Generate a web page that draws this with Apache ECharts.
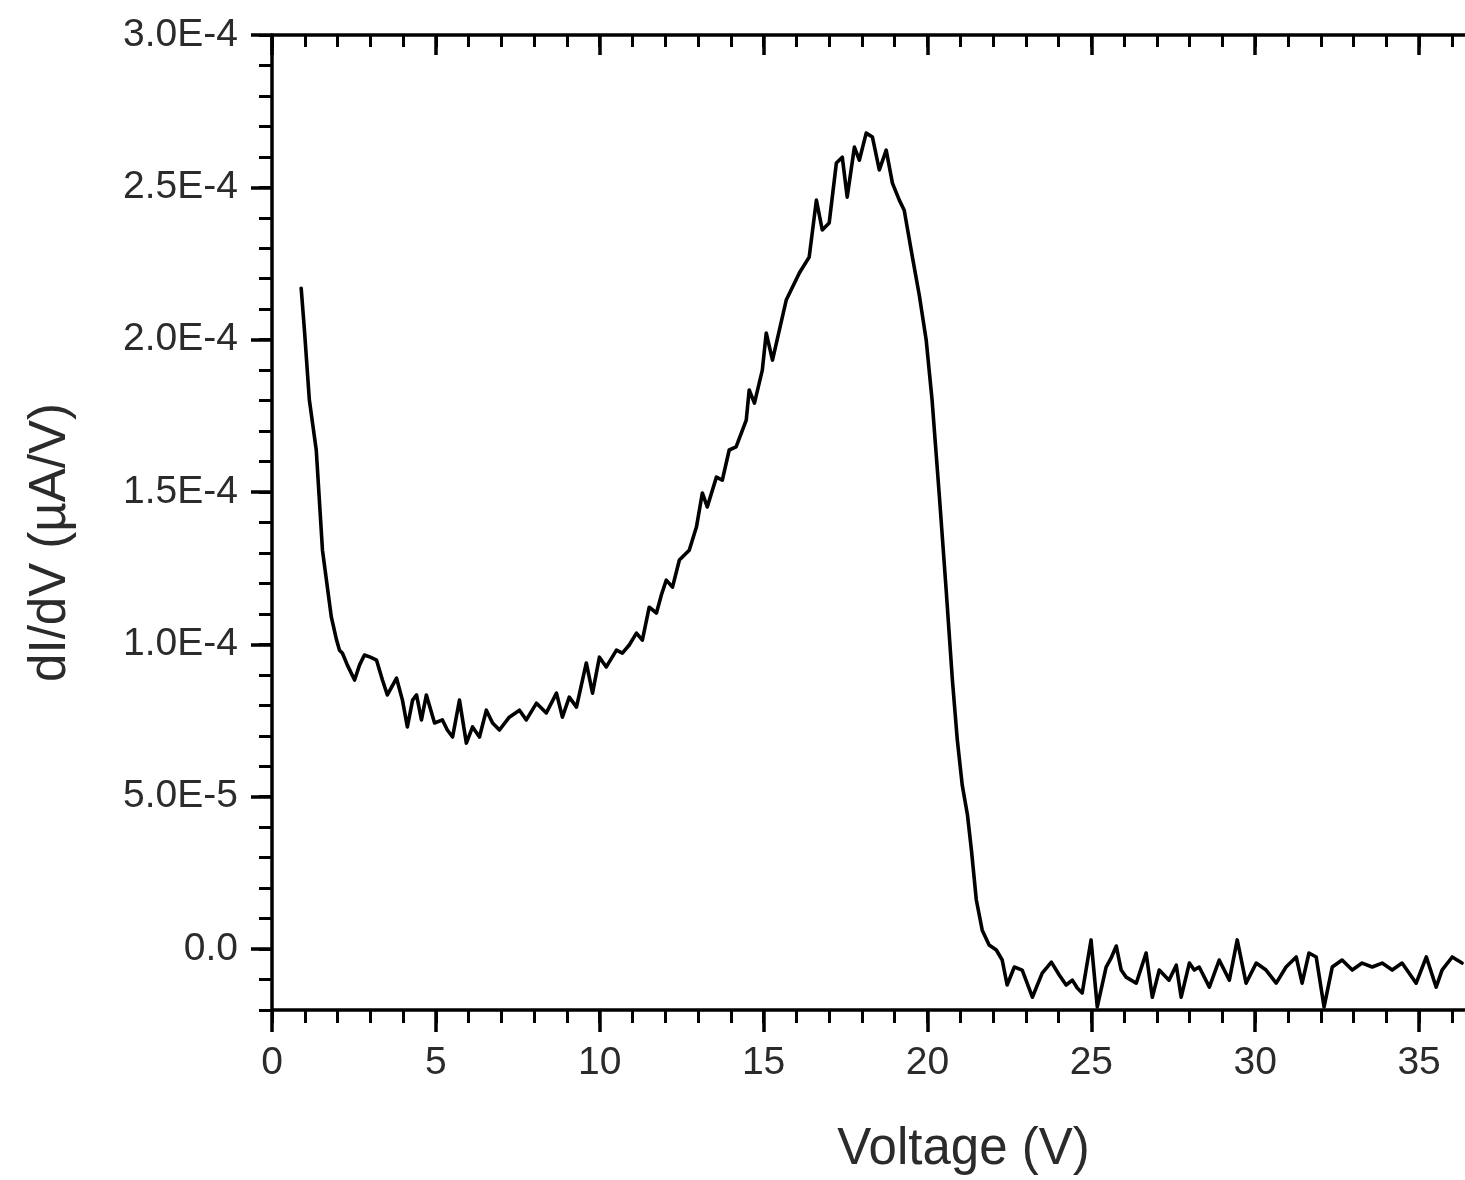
<!DOCTYPE html>
<html>
<head>
<meta charset="utf-8">
<script src="https://cdn.jsdelivr.net/npm/echarts@6/dist/echarts.min.js"></script>
<style>
html,body{margin:0;padding:0;background:#fff;}
#chart{width:1465px;height:1180px;}
</style>
</head>
<body>
<div id="chart"></div>
<script>
// Voltage (V)
const voltage = [
0.89,0.99,1.14,1.35,1.54,1.81,1.97,2.06,2.15,2.30,2.52,2.67,2.82,3.00,3.19,3.37,3.52,3.80,3.98,4.13,
4.29,4.41,4.56,4.71,4.96,5.20,5.35,5.51,5.72,5.93,6.12,6.33,6.54,6.73,6.94,7.24,7.55,7.76,8.07,8.37,
8.68,8.86,9.07,9.29,9.59,9.78,9.99,10.20,10.51,10.69,10.90,11.12,11.30,11.51,11.73,11.88,12.03,12.22,12.43,12.73,
12.95,13.13,13.28,13.56,13.74,13.95,14.16,14.47,14.56,14.72,14.96,15.08,15.27,15.69,16.09,16.39,16.61,16.79,17.00,17.22,
17.40,17.55,17.77,17.92,18.13,18.32,18.53,18.74,18.93,19.14,19.29,19.54,19.75,19.96,20.14,20.36,20.57,20.76,20.91,21.06,
21.22,21.34,21.49,21.67,21.88,22.10,22.28,22.43,22.65,22.89,23.20,23.50,23.78,24.02,24.23,24.42,24.57,24.72,24.99,25.18,
25.45,25.60,25.76,25.91,26.06,26.37,26.67,26.86,27.07,27.37,27.59,27.74,27.99,28.14,28.29,28.60,28.90,29.21,29.45,29.72,
30.03,30.33,30.64,30.94,31.25,31.43,31.64,31.86,32.10,32.35,32.65,32.96,33.26,33.57,33.87,34.18,34.48,34.91,35.22,35.52,
35.70,36.01,36.31
];
// dI/dV (µA/V)
const didv = [
21.69e-5,20.31e-5,18.02e-5,16.38e-5,13.09e-5,10.90e-5,10.14e-5,9.81e-5,9.71e-5,9.32e-5,8.83e-5,9.32e-5,9.65e-5,9.58e-5,9.48e-5,8.83e-5,8.34e-5,8.89e-5,8.17e-5,7.29e-5,
8.17e-5,8.34e-5,7.52e-5,8.34e-5,7.42e-5,7.52e-5,7.19e-5,6.96e-5,8.17e-5,6.76e-5,7.29e-5,6.96e-5,7.84e-5,7.42e-5,7.19e-5,7.61e-5,7.84e-5,7.52e-5,8.07e-5,7.75e-5,
8.40e-5,7.61e-5,8.27e-5,7.94e-5,9.39e-5,8.40e-5,9.58e-5,9.26e-5,9.81e-5,9.71e-5,9.98e-5,10.37e-5,10.14e-5,11.22e-5,11.03e-5,11.62e-5,12.11e-5,11.88e-5,12.77e-5,13.09e-5,
13.85e-5,14.97e-5,14.51e-5,15.49e-5,15.39e-5,16.38e-5,16.48e-5,17.36e-5,18.35e-5,17.92e-5,19.00e-5,20.22e-5,19.33e-5,21.30e-5,22.19e-5,22.71e-5,24.58e-5,23.60e-5,23.83e-5,25.80e-5,
25.99e-5,24.68e-5,26.32e-5,25.89e-5,26.78e-5,26.65e-5,25.57e-5,26.22e-5,25.14e-5,24.58e-5,24.25e-5,22.71e-5,21.46e-5,19.99e-5,18.02e-5,14.90e-5,11.78e-5,8.83e-5,6.86e-5,5.38e-5,
4.40e-5,3.25e-5,1.61e-5,0.62e-5,0.13e-5,-0.03e-5,-0.36e-5,-1.18e-5,-0.59e-5,-0.69e-5,-1.58e-5,-0.79e-5,-0.43e-5,-0.85e-5,-1.18e-5,-1.02e-5,-1.28e-5,-1.44e-5,0.30e-5,-1.90e-5,
-0.59e-5,-0.30e-5,0.10e-5,-0.69e-5,-0.92e-5,-1.12e-5,-0.13e-5,-1.58e-5,-0.69e-5,-1.02e-5,-0.53e-5,-1.58e-5,-0.46e-5,-0.69e-5,-0.59e-5,-1.25e-5,-0.36e-5,-1.02e-5,0.30e-5,-1.12e-5,
-0.46e-5,-0.69e-5,-1.12e-5,-0.59e-5,-0.26e-5,-1.12e-5,-0.13e-5,-0.26e-5,-1.90e-5,-0.59e-5,-0.36e-5,-0.69e-5,-0.46e-5,-0.59e-5,-0.46e-5,-0.69e-5,-0.46e-5,-1.12e-5,-0.26e-5,-1.25e-5,
-0.69e-5,-0.26e-5,-0.46e-5
];
// Axis ticks and labels
const xTickValues = [0, 5, 10, 15, 20, 25, 30, 35];
const xTickLabels = ['0', '5', '10', '15', '20', '25', '30', '35'];
const xMinorTickValues = [0,1,2,3,4,5,6,7,8,9,10,11,12,13,14,15,16,17,18,19,20,21,22,23,24,25,26,27,28,29,30,31,32,33,34,35,36];
const yTickValues = [0, 5e-5, 1e-4, 1.5e-4, 2e-4, 2.5e-4, 3e-4];
const yTickLabels = ['0.0', '5.0E-5', '1.0E-4', '1.5E-4', '2.0E-4', '2.5E-4', '3.0E-4'];
const yMinorTickValues = [-2e-5,-1e-5,0,1e-5,2e-5,3e-5,4e-5,5e-5,6e-5,7e-5,8e-5,9e-5,10e-5,11e-5,12e-5,13e-5,14e-5,15e-5,16e-5,17e-5,18e-5,19e-5,20e-5,21e-5,22e-5,23e-5,24e-5,25e-5,26e-5,27e-5,28e-5,29e-5,30e-5];

const X_MIN = 0, X_MAX = 36.4, Y_MIN = -2e-5, Y_MAX = 3e-4;
const FONT = '"Liberation Sans", Arial, sans-serif';
const TXT = '#2b2b2b';

function lookup(vals, labels, v) {
  let best = 0;
  for (let i = 1; i < vals.length; i++) if (Math.abs(vals[i] - v) < Math.abs(vals[best] - v)) best = i;
  return labels[best];
}

const data = voltage.map((v, i) => [v, didv[i]]);

const chart = echarts.init(document.getElementById('chart'), null, {renderer: 'canvas'});
const lineStyle = {color: '#000', width: 3.5};
chart.setOption({
  backgroundColor: '#fff',
  animation: false,
  grid: {left: 272, top: 35, right: 0, bottom: 170, containLabel: false},
  xAxis: [
    {
      type: 'value', position: 'bottom', min: X_MIN, max: X_MAX,
      name: 'Voltage (V)', nameLocation: 'middle', nameGap: 114,
      nameTextStyle: {fontFamily: FONT, fontSize: 51, color: TXT, padding: [0, 0, 0, 190]},
      axisLine: {show: true, onZero: false, lineStyle: lineStyle},
      axisTick: {show: true, inside: false, length: 22, lineStyle: {color: '#000', width: 3.5}, customValues: xTickValues},
      axisLabel: {show: true, margin: 34, fontFamily: FONT, fontSize: 39, color: TXT, customValues: xTickValues,
        formatter: v => lookup(xTickValues, xTickLabels, v)},
      splitLine: {show: false}
    },
    {
      type: 'value', position: 'bottom', min: X_MIN, max: X_MAX,
      axisLine: {show: false, onZero: false},
      axisTick: {show: true, inside: false, length: 13, lineStyle: {color: '#000', width: 3}, customValues: xMinorTickValues},
      axisLabel: {show: false}, splitLine: {show: false}
    },
    {
      type: 'value', position: 'top', min: X_MIN, max: X_MAX,
      axisLine: {show: true, onZero: false, lineStyle: lineStyle},
      axisTick: {show: true, inside: true, length: 12, lineStyle: {color: '#000', width: 3}, customValues: xMinorTickValues},
      axisLabel: {show: false}, splitLine: {show: false}
    },
    {
      type: 'value', position: 'top', min: X_MIN, max: X_MAX,
      axisLine: {show: false, onZero: false},
      axisTick: {show: true, inside: true, length: 20, lineStyle: {color: '#000', width: 3.5}, customValues: xTickValues},
      axisLabel: {show: false}, splitLine: {show: false}
    }
  ],
  yAxis: [
    {
      type: 'value', position: 'left', min: Y_MIN, max: Y_MAX,
      name: 'dI/dV (\u00b5A/V)', nameLocation: 'middle', nameGap: 196,
      nameTextStyle: {fontFamily: FONT, fontSize: 51, color: TXT, padding: [0, 40, 0, 0]},
      axisLine: {show: true, onZero: false, lineStyle: lineStyle},
      axisTick: {show: true, inside: false, length: 21, lineStyle: {color: '#000', width: 3.5}, customValues: yTickValues},
      axisLabel: {show: true, margin: 34, fontFamily: FONT, fontSize: 39, color: TXT, customValues: yTickValues,
        formatter: v => lookup(yTickValues, yTickLabels, v)},
      splitLine: {show: false}
    },
    {
      type: 'value', position: 'left', min: Y_MIN, max: Y_MAX,
      axisLine: {show: false, onZero: false},
      axisTick: {show: true, inside: false, length: 13, lineStyle: {color: '#000', width: 3}, customValues: yMinorTickValues},
      axisLabel: {show: false}, splitLine: {show: false}
    }
  ],
  series: [{
    type: 'line', xAxisIndex: 0, yAxisIndex: 0, data: data,
    showSymbol: false, symbol: 'none', smooth: false,
    lineStyle: {color: '#000', width: 3.6, join: 'round', cap: 'round'}, clip: true
  }]
});
</script>
</body>
</html>
